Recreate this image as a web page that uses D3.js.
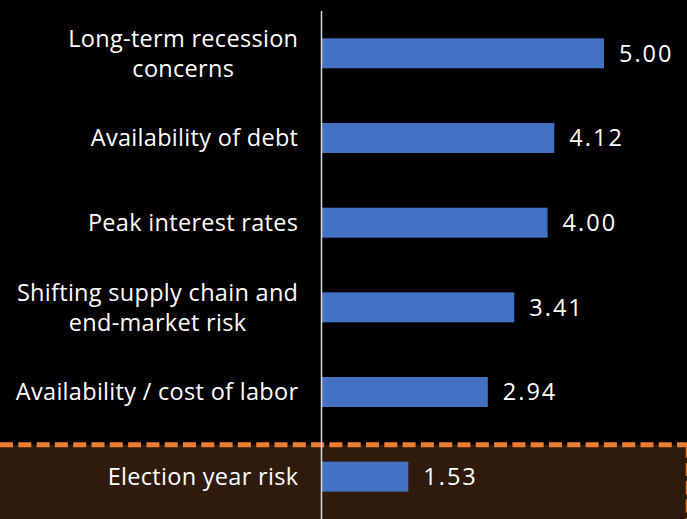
<!DOCTYPE html>
<html>
<head>
<meta charset="utf-8">
<script src="https://cdn.jsdelivr.net/npm/d3@7"></script>
<style>
  html, body { margin: 0; padding: 0; background: #000; }
  svg { display: block; }
</style>
</head>
<body>
<svg id="chart" width="687" height="519"></svg>
<script>
// Risk factors, top to bottom, with their average scores
const categories = [
  "Long-term recession concerns",
  "Availability of debt",
  "Peak interest rates",
  "Shifting supply chain and end-market risk",
  "Availability / cost of labor",
  "Election year risk"
];
// Wrapped label lines for each category
const labelLines = [
  ["Long-term recession", "concerns"],
  ["Availability of debt"],
  ["Peak interest rates"],
  ["Shifting supply chain and", "end-market risk"],
  ["Availability / cost of labor"],
  ["Election year risk"]
];
const scores = [5.00, 4.12, 4.00, 3.41, 2.94, 1.53];
const highlighted = ["Election year risk"];

const W = 687, H = 519;
const FONT = "'Open Sans', 'Liberation Sans', sans-serif";
const svg = d3.select("#chart");

const x = d3.scaleLinear().domain([0, 5]).range([322, 604]);
const y = d3.scaleBand().domain(categories).range([11, 519])
  .paddingInner(0.646).paddingOuter(0.323);

svg.append("rect").attr("width", W).attr("height", H).attr("fill", "#000");

// Shaded band behind the highlighted factor
const hlTop = y(highlighted[0]) - 17;
svg.append("rect")
  .attr("x", 0).attr("y", hlTop).attr("width", W).attr("height", H - hlTop)
  .attr("fill", "#2e1b0c");
svg.append("line")
  .attr("x1", 0).attr("x2", W).attr("y1", hlTop).attr("y2", hlTop)
  .attr("stroke", "#ed7d31").attr("stroke-width", 5)
  .attr("stroke-dasharray", "13,5.3");
svg.append("line")
  .attr("x1", W - 0.5).attr("x2", W - 0.5).attr("y1", hlTop).attr("y2", H)
  .attr("stroke", "#ed7d31").attr("stroke-width", 1.5)
  .attr("stroke-dasharray", "13,5.3");

// Bars
svg.selectAll("rect.bar").data(categories).join("rect")
  .attr("class", "bar")
  .attr("x", x(0))
  .attr("y", d => y(d))
  .attr("width", (d, i) => x(scores[i]) - x(0))
  .attr("height", y.bandwidth())
  .attr("fill", "#4472c4");

// Value labels
svg.selectAll("text.val").data(categories).join("text")
  .attr("class", "val")
  .attr("x", (d, i) => x(scores[i]) + 15)
  .attr("y", d => y(d) + y.bandwidth() / 2)
  .attr("dy", "0.36em")
  .attr("fill", "#fff")
  .style("font-family", FONT).style("font-size", "23.5px")
  .style("letter-spacing", "2px")
  .text((d, i) => d3.format(".2f")(scores[i]));

// Category labels: block right-aligned to the axis, lines centred within it
const lineH = 29.5;
const labels = svg.selectAll("g.lab").data(categories).join("g").attr("class", "lab");
labels.each(function(d, i) {
  const g = d3.select(this);
  const lines = labelLines[i];
  const cy = y(d) + y.bandwidth() / 2;
  const texts = lines.map((s, k) => g.append("text")
    .attr("y", cy + (k - (lines.length - 1) / 2) * lineH)
    .attr("dy", "0.36em")
    .attr("fill", "#fff")
    .style("font-family", FONT).style("font-size", "23.5px")
    .style("letter-spacing", "0.3px")
    .attr("text-anchor", "middle")
    .text(s));
  const widths = texts.map(t => t.node().getComputedTextLength());
  const maxW = d3.max(widths);
  const cx = 298.3 - maxW / 2;
  texts.forEach(t => t.attr("x", cx));
});

// Vertical axis line
svg.append("line")
  .attr("x1", x(0) - 0.5).attr("x2", x(0) - 0.5).attr("y1", 11).attr("y2", H)
  .attr("stroke", "#d9d9d9").attr("stroke-width", 1.5);
</script>
</body>
</html>
